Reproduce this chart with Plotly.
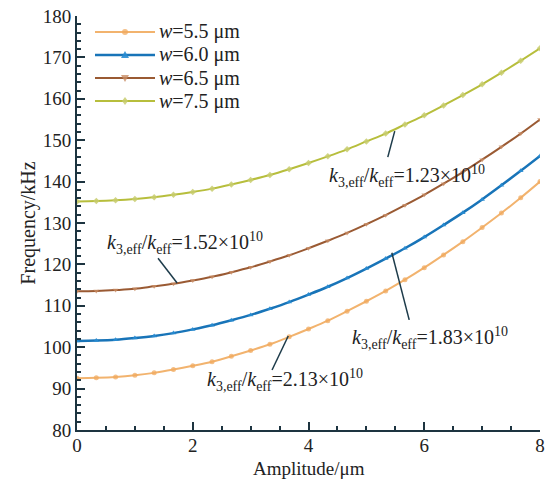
import plotly.graph_objects as go

amplitude = [i / 3 for i in range(25)]
f_w55 = [92.5, 92.6, 92.8, 93.2, 93.8, 94.6, 95.5, 96.5, 97.8, 99.2, 100.7, 102.5, 104.4,
         106.4, 108.7, 111.1, 113.6, 116.3, 119.2, 122.3, 125.5, 128.9, 132.4, 136.1, 140.0]
f_w60 = [101.5, 101.6, 101.8, 102.2, 102.7, 103.4, 104.3, 105.3, 106.5, 107.8, 109.3, 110.9, 112.7,
         114.6, 116.7, 119.0, 121.4, 123.9, 126.6, 129.5, 132.5, 135.7, 139.1, 142.6, 146.2]
f_w65 = [113.5, 113.6, 113.8, 114.1, 114.7, 115.3, 116.1, 117.0, 118.1, 119.3, 120.7, 122.2, 123.9,
         125.7, 127.6, 129.7, 131.9, 134.3, 136.8, 139.5, 142.3, 145.3, 148.4, 151.6, 155.0]
f_w75 = [135.2, 135.3, 135.5, 135.8, 136.2, 136.8, 137.5, 138.3, 139.3, 140.4, 141.6, 143.0, 144.5,
         146.1, 147.8, 149.7, 151.6, 153.8, 156.0, 158.4, 160.9, 163.5, 166.3, 169.2, 172.2]

series_names = ["<i>w</i>=5.5 μm", "<i>w</i>=6.0 μm", "<i>w</i>=6.5 μm", "<i>w</i>=7.5 μm"]
ratio_labels = ["2.13", "1.83", "1.52", "1.23"]
x_title = "Amplitude/μm"
y_title = "Frequency/kHz"

styles = [
    dict(color="#F2B36E", marker_color="rgba(240,170,95,0.75)", symbol="circle", width=2),
    dict(color="#1874B8", marker_color="rgba(40,140,210,0.9)", symbol="triangle-up", width=2.5),
    dict(color="#9A5A33", marker_color="rgba(200,140,100,0.8)", symbol="triangle-down", width=2),
    dict(color="#B7BE3C", marker_color="rgba(200,205,110,0.85)", symbol="diamond", width=2),
]

font_family = "Times New Roman, Liberation Serif, serif"
axis_color = "#1d3440"
txt_color = "#222222"

fig = go.Figure()
for name, ys, st in zip(series_names, [f_w55, f_w60, f_w65, f_w75], styles):
    fig.add_trace(go.Scatter(
        x=amplitude, y=ys, name=name, mode="lines+markers", showlegend=False,
        line=dict(color=st["color"], width=st["width"], shape="spline"),
        marker=dict(symbol=st["symbol"], size=5, color=st["marker_color"]),
    ))

# custom legend (paper coordinates), plot area = 463 x 414 px
PW, PH = 463.0, 414.0
def px(x):
    return (x - 77) / PW
def py(y):
    return (430 - y) / PH

for i, (name, st) in enumerate(zip(series_names, styles)):
    yy = 32 + 23 * i
    fig.add_shape(type="line", xref="paper", yref="paper",
                  x0=px(95), x1=px(155), y0=py(yy), y1=py(yy),
                  line=dict(color=st["color"], width=st["width"]))
    fig.add_annotation(xref="paper", yref="paper", x=px(157), y=py(yy),
                       xanchor="left", yanchor="middle", showarrow=False, text=name,
                       font=dict(family=font_family, size=20, color=txt_color))
    cx, cy, r = 125, yy, 3
    if st["symbol"] == "circle":
        fig.add_shape(type="circle", xref="paper", yref="paper",
                      x0=px(cx - r), x1=px(cx + r), y0=py(cy - r), y1=py(cy + r),
                      fillcolor=st["marker_color"], line=dict(width=0))
    else:
        if st["symbol"] == "triangle-up":
            pts = [(cx, cy - r - 1), (cx - r - 1, cy + r), (cx + r + 1, cy + r)]
        elif st["symbol"] == "triangle-down":
            pts = [(cx, cy + r + 1), (cx - r - 1, cy - r), (cx + r + 1, cy - r)]
        else:
            pts = [(cx, cy - r - 1), (cx + r, cy), (cx, cy + r + 1), (cx - r, cy)]
        path = "M " + " L ".join(f"{px(a):.5f},{py(b):.5f}" for a, b in pts) + " Z"
        fig.add_shape(type="path", xref="paper", yref="paper", path=path,
                      fillcolor=st["marker_color"], line=dict(width=0))

def ratio_text(r):
    return f"<i>k</i><sub>3,eff</sub>/<i>k</i><sub>eff</sub>={r}×10<sup>10</sup>"

# (text_x, text_y, line_x0, line_y0, line_x1, line_y1)
ann_pos = [
    (3.59, 92.1, 3.37, 94.5, 3.65, 102.7),
    (6.10, 102.2, 5.44, 122.8, 5.74, 106.6),
    (1.865, 125.2, 1.40, 121.5, 1.73, 115.5),
    (5.70, 141.4, 5.37, 145.9, 5.49, 152.2),
]
for r, (tx, ty, x0, y0, x1, y1) in zip(ratio_labels, ann_pos):
    fig.add_annotation(x=tx, y=ty, text=ratio_text(r), showarrow=False,
                       font=dict(family=font_family, size=20, color=txt_color))
    fig.add_shape(type="line", x0=x0, y0=y0, x1=x1, y1=y1,
                  line=dict(color="#1d3b4a", width=1.5))

# x-axis title as text placed just below the tick labels
fig.add_annotation(xref="paper", yref="paper", x=0.5, y=py(468), xanchor="center",
                   yanchor="middle", showarrow=False, text=x_title,
                   font=dict(family=font_family, size=19, color=txt_color))

axis_common = dict(
    showgrid=False, zeroline=False, showline=True, linecolor=axis_color, linewidth=2,
    ticks="inside", ticklen=8, tickwidth=2, tickcolor=axis_color, automargin=False,
    tickfont=dict(family=font_family, size=19, color=txt_color),
    title_font=dict(family=font_family, size=20, color=txt_color),
)
fig.update_xaxes(range=[0, 8], dtick=2, ticklabelstandoff=-3,
                 minor=dict(dtick=0.5, ticks="inside", ticklen=4, tickwidth=1.5, tickcolor=axis_color),
                 **axis_common)
fig.update_yaxes(range=[80, 180], dtick=10, title_text=y_title, title_standoff=2,
                 minor=dict(dtick=2, ticks="inside", ticklen=4, tickwidth=1.5, tickcolor=axis_color),
                 **axis_common)

fig.update_layout(
    width=557, height=479,
    margin=dict(l=77, r=17, t=16, b=49),
    paper_bgcolor="white", plot_bgcolor="white",
    font=dict(family=font_family, size=20, color=txt_color),
    showlegend=False,
)

fig.write_html("out.html")
